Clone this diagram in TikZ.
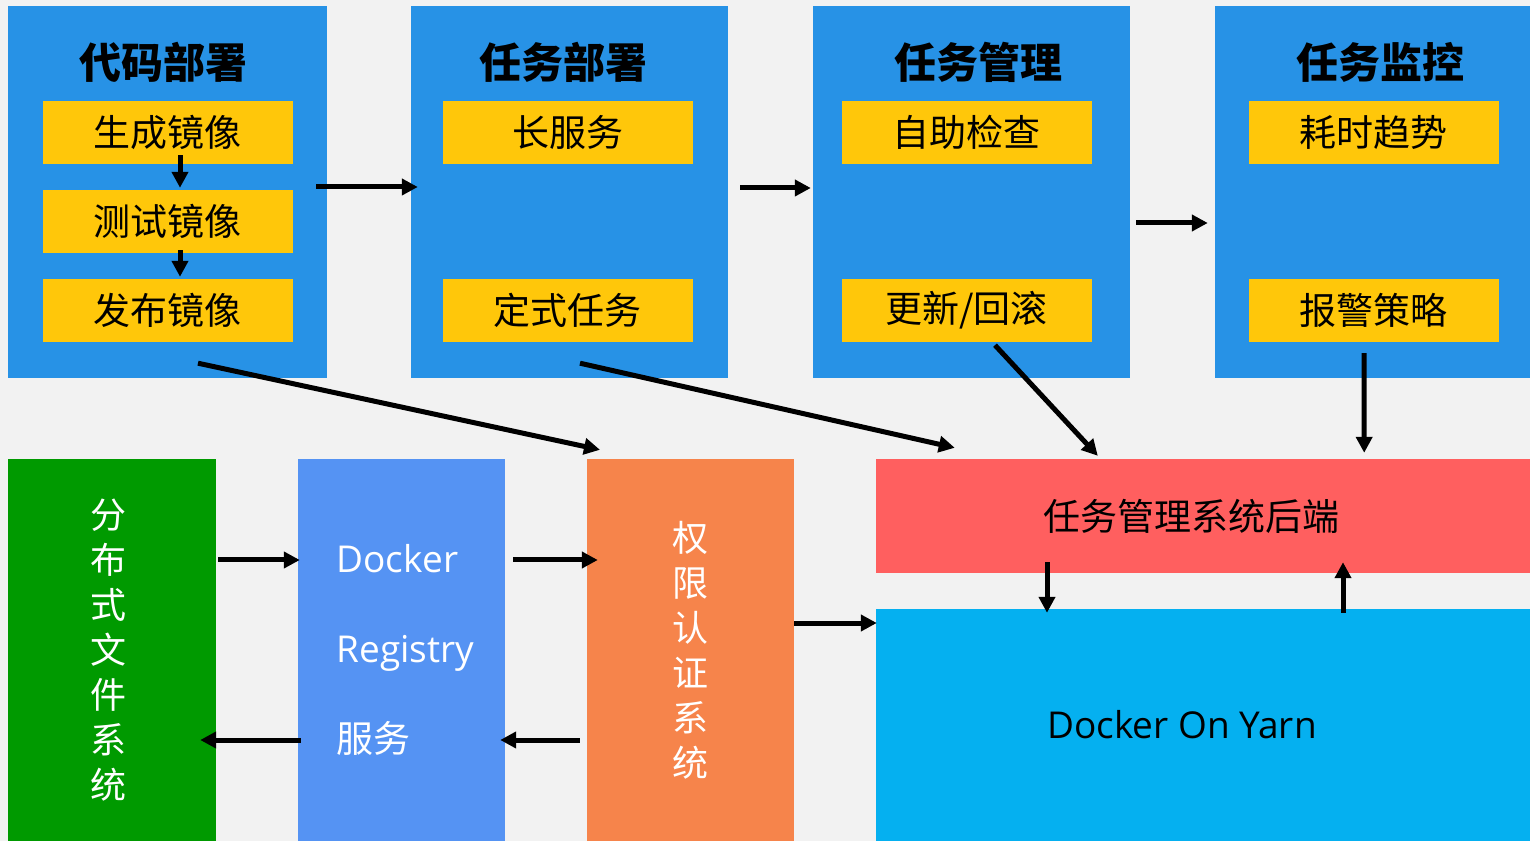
\documentclass[tikz,border=0pt]{standalone}
\usepackage{fontspec}
\setmainfont{Noto Sans CJK SC}
\newfontfamily\latinfont{Open Sans}
\usetikzlibrary{arrows.meta}
\definecolor{bgcol}{HTML}{F2F2F2}
\definecolor{stageblue}{HTML}{2792E6}
\definecolor{itemyellow}{HTML}{FFC70A}
\definecolor{dfsgreen}{HTML}{009A00}
\definecolor{regblue}{HTML}{5593F3}
\definecolor{authorange}{HTML}{F6844B}
\definecolor{backendred}{HTML}{FF5F5F}
\definecolor{yarncyan}{HTML}{05B0F0}
\begin{document}
\begin{tikzpicture}[x=1pt, y=1pt,
  stage/.style={fill=stageblue,minimum width=317pt,minimum height=372pt,inner sep=0pt},
  stagetitle/.style={font=\fontsize{42}{50}\selectfont\bfseries},
  item/.style={fill=itemyellow,minimum width=250pt,minimum height=63pt,inner sep=0pt,font=\fontsize{37}{44}\selectfont},
  column/.style={minimum width=207pt,minimum height=382pt,inner sep=0pt,align=center,text=white,font=\fontsize{36}{45}\selectfont},
  wide/.style={minimum width=654pt,inner sep=0pt,font=\fontsize{37}{44}\selectfont},
  arr/.style={line width=5pt,-{Triangle[length=16pt,width=16pt]}}]
\fill[bgcol] (0,0) rectangle (1530,841);
% top row
\node[stage,minimum width=319pt] (code) at (167.5,649) {};
\node[stage] (deploy) at (569.5,649) {};
\node[stage] (manage) at (971.5,649) {};
\node[stage,minimum width=315pt] (monitor) at (1372.5,649) {};
\begin{scope}[every node/.style={stagetitle}]
\node (codetitle) at (163,779) {代码部署};
\node (deploytitle) at (563,779) {任务部署};
\node (managetitle) at (978,779) {任务管理};
\node (monitortitle) at (1380,779) {任务监控};
\end{scope}
\node[item] (build) at (167.5,708.5) {生成镜像};
\node[item] (test) at (167.5,619.5) {测试镜像};
\node[item] (publish) at (167.5,530.5) {发布镜像};
\node[item] (longsvc) at (567.5,708.5) {长服务};
\node[item] (cron) at (567.5,530.5) {定式任务};
\node[item] (selfcheck) at (966.5,708.5) {自助检查};
\node[item] (rollback) at (966.5,530.5) {更新/回滚};
\node[item] (trend) at (1373.5,708.5) {耗时趋势};
\node[item] (alarm) at (1373.5,530.5) {报警策略};
% bottom row
\node[column,fill=dfsgreen,minimum width=208pt] (dfs) at (112,191) {\hspace*{-8pt}分\\\hspace*{-8pt}布\\\hspace*{-8pt}式\\\hspace*{-8pt}文\\\hspace*{-8pt}件\\\hspace*{-8pt}系\\\hspace*{-8pt}统};
\node[column,fill=regblue,align=left,font=\latinfont\fontsize{37}{90}\selectfont] (registry) at (401.5,191) {\hspace*{8pt}Docker\\\hspace*{8pt}Registry\\\hspace*{8pt}{\rmfamily 服务}};
\node[column,fill=authorange] (auth) at (690.5,191) {权\\限\\认\\证\\系\\统};
\node[wide,fill=backendred,minimum height=114pt] (backend) at (1203,325) {\hspace*{-24pt}任务管理系统后端};
\node[wide,fill=yarncyan,minimum height=232pt] (yarn) at (1203,116) {\hspace*{-42pt}\latinfont Docker On Yarn};
\path[arr]
    ([xshift=-11pt,yshift=5pt]code.east) edge ([xshift=7pt,yshift=5pt]deploy.west)
    ([xshift=12pt,yshift=4pt]deploy.east) edge ([xshift=-2pt,yshift=4pt]manage.west)
    ([xshift=6pt,yshift=-31pt]manage.east) edge ([xshift=-7pt,yshift=-31pt]monitor.west)
    ([xshift=12.5pt,yshift=9pt]build.south) edge ([xshift=12.5pt,yshift=2pt]test.north)
    ([xshift=12.5pt,yshift=3pt]test.south) edge ([xshift=12.5pt,yshift=2pt]publish.north)
    ([xshift=30.5pt,yshift=15pt]code.south) edge ([xshift=-90.5pt,yshift=9pt]auth.north)
    ([xshift=10.5pt,yshift=15pt]deploy.south) edge ([xshift=79pt,yshift=11pt]backend.north west)
    ([xshift=28.5pt,yshift=-3pt]rollback.south) edge ([xshift=222pt,yshift=3pt]backend.north west)
    ([xshift=-8.5pt,yshift=25pt]monitor.south) edge ([xshift=-166pt,yshift=6pt]backend.north east)
    ([xshift=-156pt,yshift=11pt]backend.south) edge ([xshift=-156pt,yshift=-4pt]yarn.north)
    ([xshift=140pt,yshift=-4pt]yarn.north) edge ([xshift=140pt,yshift=11pt]backend.south)
    ([xshift=2pt,yshift=90pt]dfs.east) edge ([xshift=2pt,yshift=90pt]registry.west)
    ([xshift=8pt,yshift=90pt]registry.east) edge ([xshift=11pt,yshift=90pt]auth.west)
    ([xshift=3pt,yshift=-90pt]registry.west) edge ([xshift=-16pt,yshift=-90pt]dfs.east)
    ([xshift=-7pt,yshift=-90pt]auth.west) edge ([xshift=-5pt,yshift=-90pt]registry.east)
    ([yshift=27pt]auth.east) edge ([xshift=1pt,yshift=102pt]yarn.west)
         ;
\end{tikzpicture}
\end{document}
